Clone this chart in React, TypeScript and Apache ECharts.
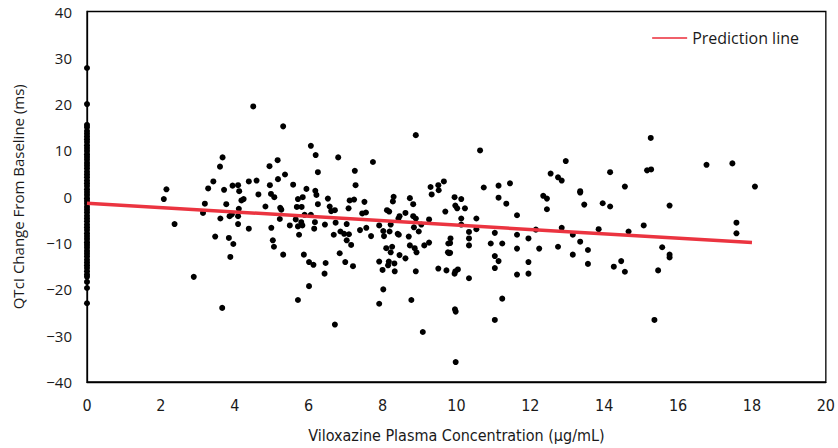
import React, { useEffect, useRef } from "react";
import * as echarts from "echarts";

const xTicks = [0, 2, 4, 6, 8, 10, 12, 14, 16, 18, 20];
const yTicks = [-40, -30, -20, -10, 0, 10, 20, 30, 40];

// Placebo / zero-concentration observations
const zeroConcChanges = [
  27.8, 20.0, 15.5, 15.0, 14.2, 13.6, 13.0, 12.4, 11.8, 11.1, 10.5, 9.9, 9.2, 8.6, 8.0, 7.3, 6.7, 6.1,
  5.4, 4.8, 4.2, 3.5, 2.9, 2.3, 1.6, 1.0, 0.4, -0.3, -0.9, -1.5, -2.2, -2.8, -3.4, -4.1, -4.7, -5.3,
  -6.0, -6.6, -7.2, -7.9, -8.5, -9.1, -9.8, -10.4, -11.0, -11.7, -12.3, -12.9, -13.6, -14.2, -14.8,
  -15.4, -16.1, -16.8, -17.3, -18.4, -19.7, -23.0,
];

// Active-treatment observations: concentration (µg/mL)
const concentrations = [
  4.50, 5.31, 2.15, 2.08, 2.37, 2.89, 3.66, 3.67, 3.60, 3.42, 3.28, 3.71, 3.94, 4.09, 4.12, 3.19, 3.14,
  3.77, 3.61, 3.86, 3.92, 4.11, 4.18, 4.24, 4.09, 4.09, 3.47, 3.84, 3.96, 3.88, 4.38, 4.59, 4.64, 4.38,
  4.83, 4.94, 5.16, 5.17, 5.36, 4.95, 4.98, 5.07, 5.23, 5.26, 5.22, 4.99, 5.03, 5.06, 5.31, 5.58, 5.94,
  5.71, 5.84, 5.68, 5.81, 5.89, 5.65, 5.71, 5.83, 5.80, 5.49, 5.74, 5.87, 6.01, 5.71, 6.01,
  6.06, 6.19, 6.25, 6.18, 6.21, 6.25, 6.06, 6.17, 6.15, 6.13, 6.80, 6.52, 6.57, 6.61, 6.71, 6.44, 6.73,
  6.68, 6.46, 6.43, 6.84, 6.71, 7.03, 6.86, 6.96, 7.09, 7.03, 7.15, 6.99, 7.20, 7.08, 7.11, 7.23, 7.25,
  7.27, 7.39, 7.45, 7.55, 7.51, 7.56, 7.69, 7.74, 7.91, 8.02, 8.04, 7.91, 8.00, 8.02, 7.91, 8.12, 8.18,
  8.28, 8.30, 8.22, 8.19, 8.10, 8.26, 8.22, 8.17, 8.15, 8.32, 8.33, 8.41, 8.44, 8.46, 8.43, 8.46, 8.62,
  8.62, 8.74, 8.83, 8.71, 8.74, 8.83, 8.90, 8.85, 8.98, 8.87, 8.92, 8.90, 8.78, 8.90, 9.09, 9.05, 9.13,
  9.26, 9.26, 9.30, 9.33, 9.51, 9.52, 9.66, 9.51, 9.73, 9.70, 9.77, 9.80, 9.78, 9.84, 9.95, 9.97, 10.02,
  9.95, 9.97, 9.96, 9.98, 9.98,
  10.64, 10.74, 10.13, 10.23, 10.13, 10.13, 10.54, 10.54, 10.34, 10.34, 10.34, 9.83, 9.83, 10.04, 10.34,
  11.14, 11.14, 11.45, 11.35, 11.04, 10.93, 11.24, 11.04, 11.14, 11.04, 11.24, 11.04, 11.64, 11.64,
  11.64, 11.64, 11.95, 11.95, 11.95, 12.15, 12.24, 12.35, 12.45, 12.45, 12.55, 12.75, 12.85, 12.96,
  12.85, 12.75, 13.15, 13.15, 13.35, 13.35, 13.35, 13.46, 13.56, 13.56, 13.85, 13.96,
  15.26, 14.16, 15.16, 15.27, 14.56, 14.16, 15.77, 16.77, 17.47, 18.08, 14.66, 15.07, 15.57, 15.77,
  15.77, 14.46, 14.26, 14.56, 15.46, 15.36, 17.58, 17.58,
];

// Active-treatment observations: QTcI change from baseline (ms)
const qtcChanges = [
  19.5, 15.2, 1.6, -0.5, -5.9, -17.3, -24.0, 8.5, 6.5, 3.3, 1.8, 1.5, 2.4, 2.5, 1.2, -1.5, -3.5,
  -1.6, -4.7, -4.2, -3.8, -2.6, -0.8, -0.5, -4.2, -5.9, -8.6, -8.9, -10.2, -13.0, 3.3, 3.5, 0.5, -6.9,
  -2.1, 6.6, 7.9, 3.8, 4.8, 2.5, 0.6, -0.1, -2.4, -2.8, -4.8, -6.7, -9.4, -10.8, -12.5, 2.6, 1.7,
  -0.5, -0.1, -2.2, -2.2, -3.9, -4.9, -6.4, -6.2, -5.5, -6.2, -8.2, -12.5, -14.1, -22.3, -19.3,
  11.0, 9.0, 5.3, 1.3, 0.4, -1.6, -3.9, -5.5, -6.9, -14.7, 8.5, -0.4, -2.1, -3.1, -2.9, -6.0, -5.6,
  -8.2, -14.3, -16.6, -12.2, -27.6, -5.9, -7.5, -8.0, -8.1, -9.4, -10.4, -14.1, -15.0, -2.5, -0.8, -0.6, 5.6,
  2.5, -7.2, -3.6, -3.4, -1.1, -6.7, -8.5, 7.5, -6.2, -7.4, -8.5, -14.0, -15.8, -20.0, -23.1, -2.9, -3.2,
  -1.0, 0.0, -6.0, -7.5, -11.1, -10.8, -12.0, -14.0, -14.8, -14.4, -16.1, -8.0, -8.2, -4.2, -4.7, -12.6, -13.3,
  -3.5, -0.3, -1.6, -8.6, -10.5, -4.2, -4.7, -6.6, -7.5, -11.1, -12.0, -16.1, -22.3, 13.3, -29.2, -6.0, -10.5,
  -9.9, -4.9, 2.1, 0.5, 2.5, 1.4, 3.3, -15.5, -15.9, -3.2, -12.0, -12.2, -10.1, -9.0, -0.1, -1.9, -2.5,
  -16.6, -16.1, -24.3, -24.8, -35.7,
  10.0, 2.0, -0.5, -2.5, -4.7, -6.0, -4.7, -7.0, -7.6, -9.0, -10.5, -10.0, -12.1, -15.7, -17.6,
  2.4, -0.2, 2.9, -1.5, -7.8, -10.1, -10.1, -12.8, -13.9, -15.4, -22.0, -26.6, -4.0, -8.2,
  -11.2, -16.8, -16.6, -9.0, -14.1, -7.1, -11.2, 0.2, -0.4, -2.7, 5.0, 4.2, 3.5, 7.7,
  -6.7, -10.8, -8.2, -12.5, -9.7, 1.2, 0.9, -1.7, -11.5, -14.5, -7.0, -1.4,
  12.7, 5.3, 5.7, 5.9, 2.2, -2.1, -1.9, 6.9, 7.2, 2.2, -7.5, -6.2, -10.9, -12.5,
  -13.1, -13.9, -15.1, -16.2, -15.9, -26.6, -5.6, -7.9,
];

// Prediction line endpoints (concentration, predicted change)
const predictionX = [0, 18];
const predictionY = [-1.4, -9.9];

const fmtNum = (v: number) => (v < 0 ? "\u2212" + Math.abs(v) : String(v));
const narrowFont = "'DejaVu Sans Condensed', Roboto, 'Noto Sans', sans-serif";
const textColor = "#1a1a1a";

export default function App() {
  const ref = useRef<HTMLDivElement>(null);
  useEffect(() => {
    if (!ref.current) return;
    const chart = echarts.init(ref.current, undefined, { renderer: "svg" });
    const scatterData: number[][] = [];
    zeroConcChanges.forEach((y) => scatterData.push([0, y]));
    concentrations.forEach((x, i) => scatterData.push([x, qtcChanges[i]]));
    const lineData = predictionX.map((x, i) => [x, predictionY[i]]);
    const black = "#000";
    chart.setOption({
      animation: false,
      backgroundColor: "#fff",
      grid: {
        left: 87,
        right: 9,
        top: 11.5,
        bottom: 65,
        show: true,
        borderColor: black,
        borderWidth: 1.3,
        backgroundColor: "transparent",
      },
      legend: {
        show: true,
        right: 34,
        top: 25,
        itemWidth: 35,
        itemHeight: 2,
        itemGap: 10,
        data: [{ name: "Prediction line", icon: "rect", itemStyle: { color: "#F0606A" } }],
        textStyle: { fontFamily: "Open Sans", fontSize: 16, color: textColor },
      },
      xAxis: {
        type: "value",
        min: 0,
        max: 20,
        interval: 2,
        name: "Viloxazine Plasma Concentration (\u00b5g/mL)",
        nameLocation: "middle",
        nameGap: 45,
        nameTextStyle: { fontFamily: narrowFont, fontSize: 16, color: textColor },
        axisLine: { show: true, onZero: false, lineStyle: { color: black, width: 1.3 } },
        axisTick: { show: false },
        splitLine: { show: false },
        axisLabel: {
          fontFamily: narrowFont,
          fontSize: 16,
          color: textColor,
          margin: 15,
          formatter: (v: number) => (xTicks.includes(v) ? fmtNum(v) : ""),
        },
      },
      yAxis: {
        type: "value",
        min: -40,
        max: 40,
        interval: 10,
        name: "QTcI Change From Baseline (ms)",
        nameLocation: "middle",
        nameGap: 62,
        nameTextStyle: { fontFamily: "Open Sans", fontSize: 15, color: textColor },
        axisLine: { show: true, onZero: false, lineStyle: { color: black, width: 1.3 } },
        axisTick: { show: false },
        splitLine: { show: false },
        axisLabel: {
          fontFamily: "Open Sans",
          fontSize: 15,
          color: textColor,
          margin: 15,
          formatter: (v: number) => (yTicks.includes(v) ? fmtNum(v) : ""),
        },
      },
      series: [
        {
          type: "scatter",
          name: "Observed",
          data: scatterData,
          symbol: "circle",
          symbolSize: 6,
          itemStyle: { color: "#000", opacity: 1 },
          z: 2,
        },
        {
          type: "line",
          name: "Prediction line",
          data: lineData,
          showSymbol: false,
          symbol: "none",
          lineStyle: { color: "#EB3440", width: 3.5 },
          itemStyle: { color: "#F0606A" },
          z: 3,
        },
      ],
    });
    return () => chart.dispose();
  }, []);
  return (
    <div
      ref={ref}
      style={{ position: "absolute", left: 0, top: 0, width: 838, height: 448 }}
    />
  );
}
